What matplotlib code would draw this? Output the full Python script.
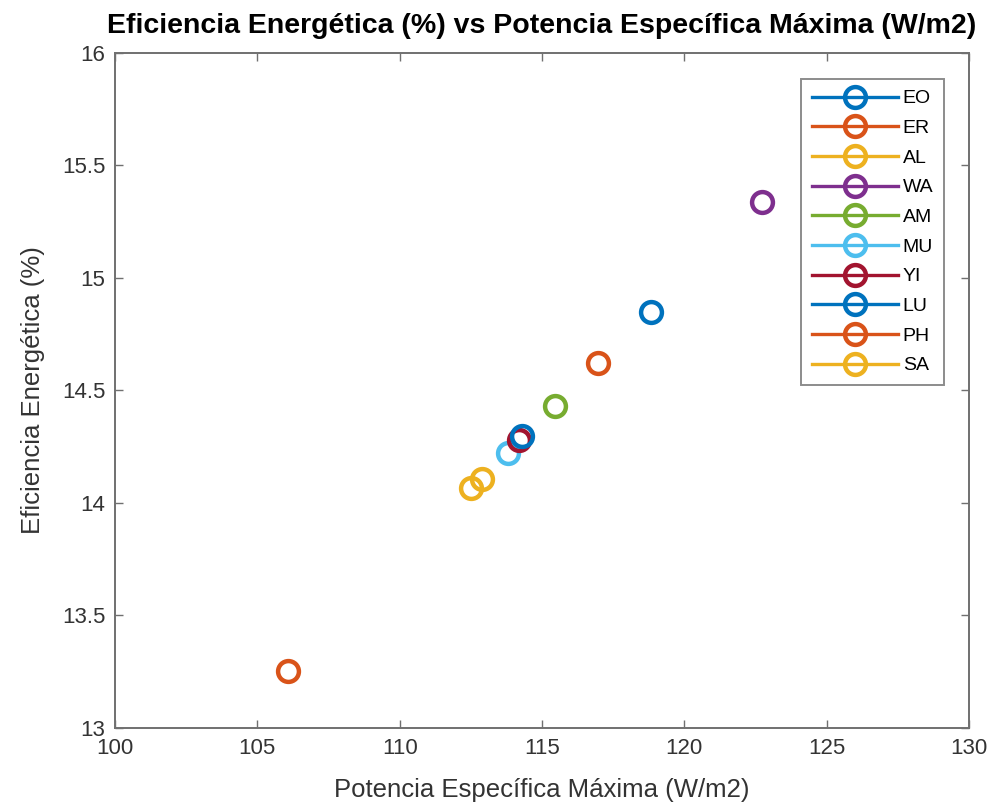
import matplotlib
matplotlib.use("Agg")
import matplotlib.pyplot as plt

plt.rcParams['font.family'] = ['Liberation Sans', 'DejaVu Sans']

labels = ['EO', 'ER', 'AL', 'WA', 'AM', 'MU', 'YI', 'LU', 'PH', 'SA']
potencia = [118.83, 116.97, 112.49, 122.73, 115.45, 113.79, 114.20, 114.29, 106.07, 112.90]
eficiencia = [14.85, 14.62, 14.064, 15.337, 14.43, 14.22, 14.28, 14.296, 13.251, 14.107]
colors = ['#0072BD', '#D95319', '#EDB120', '#7E2F8E', '#77AC30', '#4DBEEE', '#A2142F',
          '#0072BD', '#D95319', '#EDB120']

fig = plt.figure(figsize=(10, 8.07), dpi=100)
ax = fig.add_axes([0.115, 0.0979, 0.854, 0.8368])

for lab, x, y, c in zip(labels, potencia, eficiencia, colors):
    ax.plot([x], [y], '-o', color=c, markerfacecolor='none', markersize=15,
            markeredgewidth=3.2, linewidth=2.4, label=lab)

ax.set_xlim(100, 130)
ax.set_ylim(13, 16)
ax.set_xticks([100, 105, 110, 115, 120, 125, 130])
ax.set_yticks([13, 13.5, 14, 14.5, 15, 15.5, 16])
ax.set_yticklabels(['13', '13.5', '14', '14.5', '15', '15.5', '16'])
spine = '#707070'
for s in ax.spines.values():
    s.set_color(spine)
    s.set_linewidth(1.4)
ax.tick_params(direction='in', top=True, right=True, length=6, width=1.0,
               colors=spine, labelsize=16, labelcolor='#333333', pad=7)
ax.set_xlabel('Potencia Específica Máxima (W/m2)', fontsize=18.5, color='#333333', labelpad=14)
ax.set_ylabel('Eficiencia Energética (%)', fontsize=18.5, color='#333333', labelpad=12)
ax.set_title('Eficiencia Energética (%) vs Potencia Específica Máxima (W/m2)',
             fontsize=20.5, fontweight='bold', color='black', pad=14)

leg = ax.legend(loc='upper right', bbox_to_anchor=(0.9707, 0.961), fontsize=14,
                frameon=True, fancybox=False, handlelength=4.4, handletextpad=0.26,
                labelspacing=0.62, borderpad=0.55, borderaxespad=0)
leg.get_frame().set_edgecolor(spine)
leg.get_frame().set_linewidth(1.4)
for t in leg.get_texts():
    t.set_color('black')

fig.savefig('out.png', dpi=100)
